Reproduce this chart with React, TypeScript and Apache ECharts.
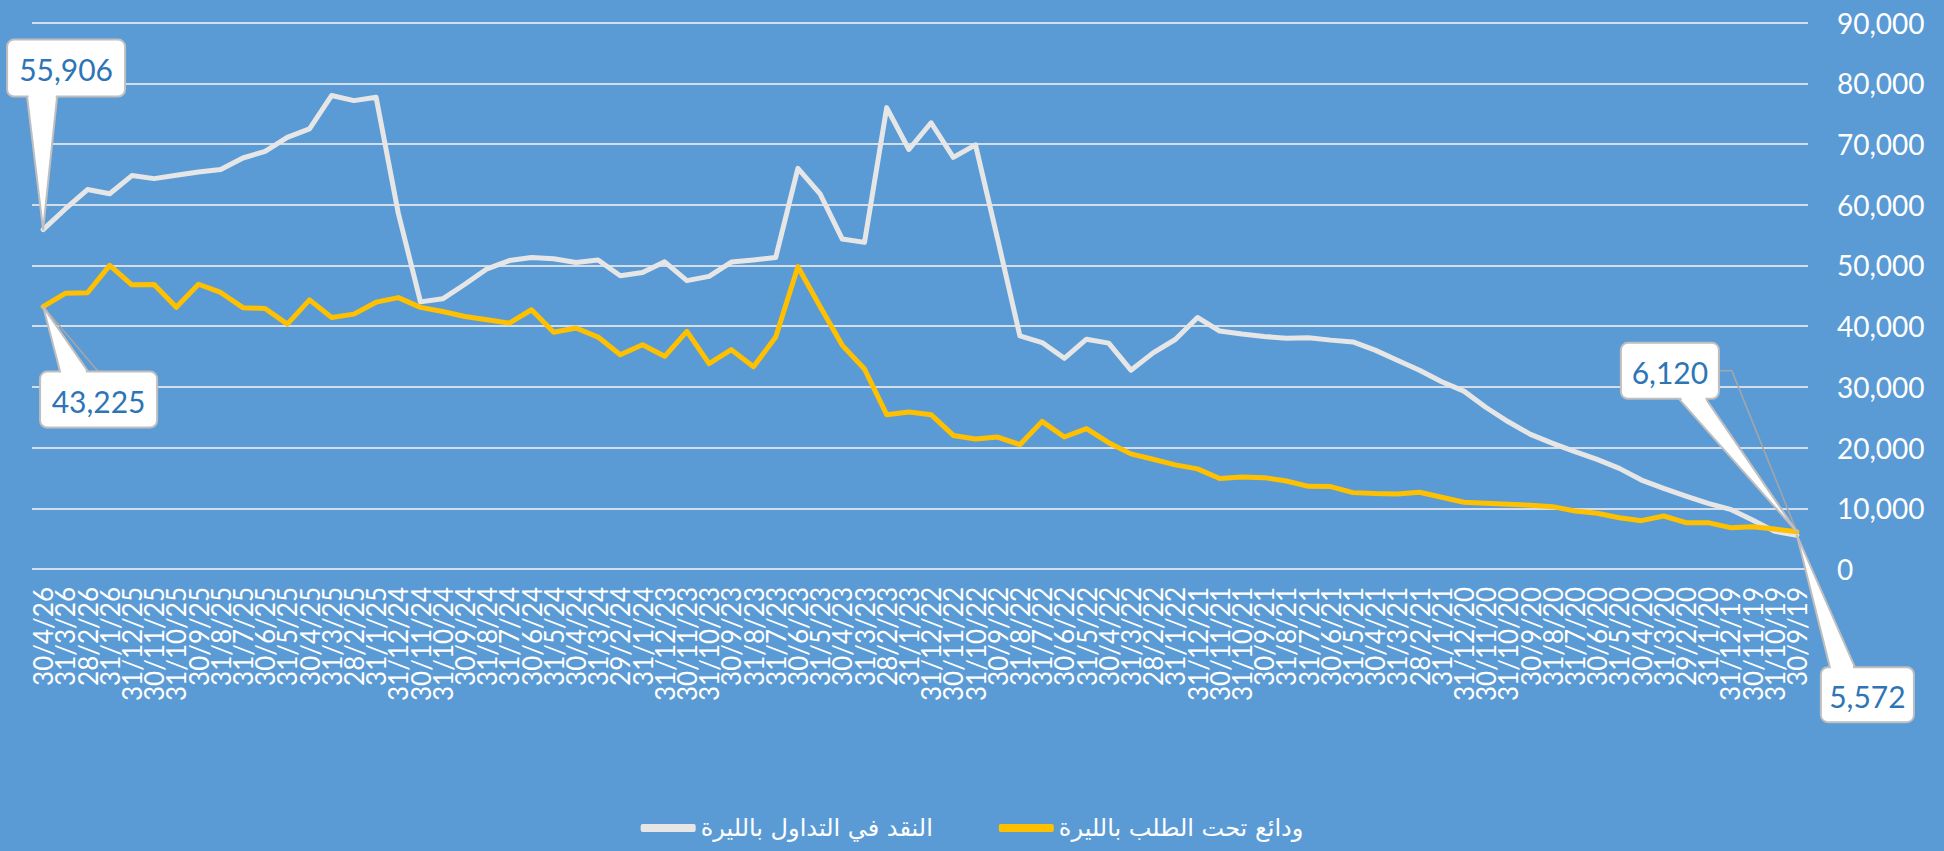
import React, { useEffect, useRef } from "react";
import * as echarts from "echarts";

const categories = [
  "30/4/26", "31/3/26", "28/2/26", "31/1/26",
  "31/12/25", "30/11/25", "31/10/25", "30/9/25", "31/8/25", "31/7/25", "30/6/25", "31/5/25", "30/4/25", "31/3/25", "28/2/25", "31/1/25",
  "31/12/24", "30/11/24", "31/10/24", "30/9/24", "31/8/24", "31/7/24", "30/6/24", "31/5/24", "30/4/24", "31/3/24", "29/2/24", "31/1/24",
  "31/12/23", "30/11/23", "31/10/23", "30/9/23", "31/8/23", "31/7/23", "30/6/23", "31/5/23", "30/4/23", "31/3/23", "28/2/23", "31/1/23",
  "31/12/22", "30/11/22", "31/10/22", "30/9/22", "31/8/22", "31/7/22", "30/6/22", "31/5/22", "30/4/22", "31/3/22", "28/2/22", "31/1/22",
  "31/12/21", "30/11/21", "31/10/21", "30/9/21", "31/8/21", "31/7/21", "30/6/21", "31/5/21", "30/4/21", "31/3/21", "28/2/21", "31/1/21",
  "31/12/20", "30/11/20", "31/10/20", "30/9/20", "31/8/20", "31/7/20", "30/6/20", "31/5/20", "30/4/20", "31/3/20", "29/2/20", "31/1/20",
  "31/12/19", "30/11/19", "31/10/19", "30/9/19",
];

const cashInCirculation = [
  55906, 59300, 62500, 61800, 64800, 64300, 64850, 65400, 65800, 67700,
  68800, 71100, 72500, 78000, 77150, 77700, 58600, 44000, 44500, 46900,
  49450, 50800, 51300, 51100, 50500, 50900, 48300, 48850, 50600, 47500,
  48200, 50550, 50900, 51300, 66000, 61800, 54350, 53800, 76000, 69100,
  73500, 67800, 69850, 54300, 38400, 37300, 34700, 37850, 37200, 32750,
  35600, 37800, 41430, 39200, 38700, 38300, 38000, 38100, 37700, 37400,
  36050, 34400, 32750, 30850, 29300, 26600, 24250, 22170, 20700, 19320,
  18060, 16580, 14650, 13280, 12020, 10820, 9830, 8070, 6200, 5572,
];

const demandDeposits = [
  43225, 45400, 45500, 50000, 46800, 46850, 43100, 46900, 45550, 43050,
  42900, 40330, 44330, 41430, 41980, 43950, 44700, 43100, 42420, 41600,
  41050, 40500, 42700, 39000, 39700, 38200, 35300, 36950, 35030, 39150,
  33820, 36130, 33300, 38200, 49800, 43250, 36840, 32940, 25420, 25860,
  25420, 22000, 21400, 21740, 20480, 24320, 21740, 23110, 20800, 18960,
  18080, 17150, 16490, 14900, 15160, 15050, 14500, 13620, 13570, 12580,
  12420, 12360, 12640, 11810, 10990, 10815, 10650, 10490, 10270, 9550,
  9170, 8450, 7960, 8730, 7630, 7630, 6810, 6970, 6590, 6120,
];

const seriesNames = ["النقد في التداول بالليرة", "ودائع تحت الطلب بالليرة"];
const seriesColors = ["#E6E6E6", "#FFC000"];

const yMin = 0;
const yMax = 90000;
const yInterval = 10000;

// callout layout (offsets relative to the anchored data point)
const callouts = [
  { series: 0, index: 0, dx: -36, dy: -190, w: 118, h: 57, b1: -16, b2: 14, edge: "bottom", leader: null as null | number[][] },
  { series: 1, index: 0, dx: -3, dy: 65, w: 117, h: 56, b1: 17, b2: 45, edge: "top", leader: [[55, 65], [0, 0]] },
  { series: 1, index: 79, dx: -176, dy: -189, w: 98, h: 56, b1: -118, b2: -91, edge: "bottom", leader: [[-78, -161], [-65, -161], [0, 0]] },
  { series: 0, index: 79, dx: 24, dy: 132, w: 93, h: 55, b1: 33, b2: 58, edge: "top", leader: null },
];

const fmt = (v: number) => v.toLocaleString("en-US");

export default function App() {
  const ref = useRef<HTMLDivElement>(null);

  useEffect(() => {
    if (!ref.current) return;
    const chart = echarts.init(ref.current, null, { renderer: "svg" });
    const dataSets = [cashInCirculation, demandDeposits];

    chart.setOption({
      animation: false,
      backgroundColor: "#5B9BD5",
      grid: { left: 32, right: 136, top: 22.6, bottom: 282, containLabel: false, outerBoundsMode: "none" },
      legend: {
        data: seriesNames,
        left: "center",
        top: 811,
        itemWidth: 55,
        itemHeight: 8,
        itemGap: 66,
        icon: "roundRect",
        textStyle: { color: "#FFFFFF", fontSize: 24, fontFamily: "DejaVu Sans, sans-serif" },
      },
      xAxis: {
        type: "category",
        data: categories,
        boundaryGap: true,
        axisLine: { show: false },
        axisTick: { show: false },
        axisLabel: {
          interval: 0,
          rotate: 90,
          margin: 18,
          color: "#FFFFFF",
          fontSize: 26,
          fontFamily: "Lato, sans-serif",
        },
        splitLine: { show: false },
      },
      yAxis: {
        type: "value",
        position: "right",
        min: yMin,
        max: yMax,
        interval: yInterval,
        axisLine: { show: false },
        axisTick: { show: false },
        axisLabel: {
          color: "#FFFFFF",
          fontSize: 28,
          fontFamily: "Lato, sans-serif",
          margin: 29,
          formatter: (v: number) => fmt(v),
        },
        splitLine: { lineStyle: { color: "#D4DEEA", width: 2 } },
      },
      series: dataSets.map((d, i) => ({
        name: seriesNames[i],
        type: "line",
        data: d,
        symbol: "none",
        showSymbol: false,
        color: seriesColors[i],
        lineStyle: { width: 5, color: seriesColors[i], cap: "round", join: "round" },
        z: 2 + i,
      })),
    });

    const elements: any[] = [];
    callouts.forEach((c) => {
      const v = dataSets[c.series][c.index];
      const pt = chart.convertToPixel({ xAxisIndex: 0, yAxisIndex: 0 }, [c.index, v]) as number[];
      const px = pt[0];
      const py = pt[1];
      const bx = px + c.dx;
      const by = py + c.dy;
      const yb = c.edge === "top" ? by : by + c.h;
      if (c.leader) {
        elements.push({
          type: "polyline",
          silent: true,
          z: 100,
          shape: { points: c.leader.map((p) => [px + p[0], py + p[1]]) },
          style: { stroke: "#A6A6A6", lineWidth: 1.5, fill: null },
        });
      }
      elements.push({
        type: "polygon",
        silent: true,
        z: 101,
        shape: { points: [[px + c.b1, yb], [px + c.b2, yb], [px, py]] },
        style: { fill: "#FFFFFF", stroke: "#BFBFBF", lineWidth: 2, lineJoin: "round" },
      });
      elements.push({
        type: "rect",
        silent: true,
        z: 102,
        shape: { x: bx, y: by, width: c.w, height: c.h, r: 7 },
        style: { fill: "#FFFFFF", stroke: "#BFBFBF", lineWidth: 2 },
      });
      const dist = Math.abs(py - yb);
      const t = 2.5 / dist;
      const yIn = c.edge === "top" ? yb + 3 : yb - 3;
      const yOut = c.edge === "top" ? yb - 2.5 : yb + 2.5;
      const xl = px + c.b1 * (1 - t);
      const xr = px + c.b2 * (1 - t);
      elements.push({
        type: "polygon",
        silent: true,
        z: 103,
        shape: { points: [[px + c.b1 + 1.3, yIn], [px + c.b2 - 1.3, yIn], [xr - 1.3, yOut], [xl + 1.3, yOut]] },
        style: { fill: "#FFFFFF", stroke: null },
      });
      elements.push({
        type: "text",
        silent: true,
        z: 104,
        x: bx + c.w / 2,
        y: by + c.h / 2 + 1,
        style: {
          text: fmt(v),
          fill: "#2E75B6",
          fontSize: 30,
          fontFamily: "Lato, sans-serif",
          align: "center",
          verticalAlign: "middle",
        },
      });
    });
    chart.setOption({ graphic: { elements } });

    return () => chart.dispose();
  }, []);

  return (
    <div
      ref={ref}
      style={{ position: "fixed", left: 0, top: 0, width: 1944, height: 851 }}
    />
  );
}
